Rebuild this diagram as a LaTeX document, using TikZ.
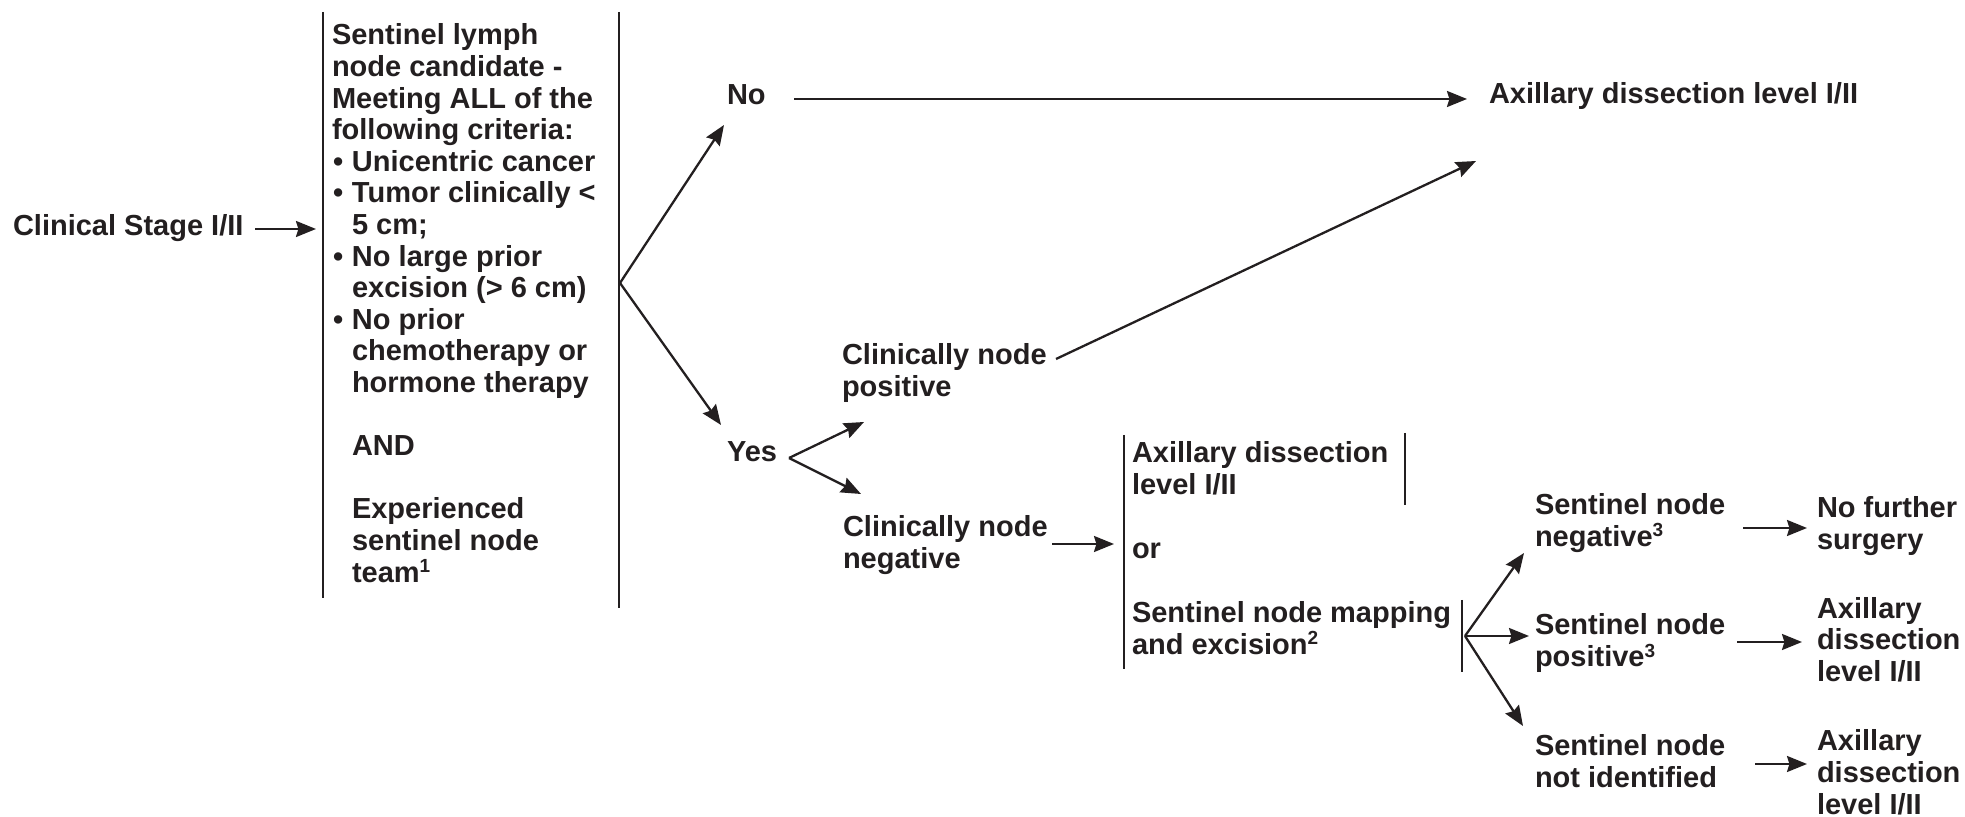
\documentclass[tikz,border=0pt]{standalone}
\usepackage{fontspec}
\setmainfont{Liberation Sans}
\usetikzlibrary{arrows.meta}
\definecolor{ink}{RGB}{35,31,32}
% footnote marks that do not stretch the line spacing
\newcommand{\fnmark}[1]{\smash{\raisebox{5pt}{\fontsize{9.5}{9.5}\selectfont #1}}}
\newcommand{\bul}{\makebox[10pt][l]{\hspace{0.5pt}\textbullet}}
\newcommand{\ind}{\hspace*{10pt}}
\newcommand{\lines}[1]{\begin{tabular}[t]{@{}l@{}}#1\end{tabular}}
\tikzset{
  txt/.style={anchor=base west, inner sep=0pt, outer sep=0pt, text=ink,
    font=\fontsize{14.5}{16}\selectfont\bfseries},
  crit/.style={txt, font=\fontsize{14.5}{15.8}\selectfont\bfseries},
  link/.style={draw=ink, line width=1.15pt, -{Stealth[length=10pt,width=8pt,inset=1.2pt]}},
  rule/.style={draw=ink, line width=1.1pt},
}
\begin{document}
\begin{tikzpicture}[x=0.5pt, y=-0.5pt]
\useasboundingbox (0,0) rectangle (1965,817);

% ---- text blocks ----
\node[txt] (stage) at (13,236) {Clinical Stage I/II};
\node[crit] (criteria) at (332,45) {\lines{%
  Sentinel lymph\\
  node candidate -\\
  Meeting ALL of the\\
  following criteria:\\
  \bul Unicentric cancer\\
  \bul Tumor clinically <\\
  \ind 5 cm;\\
  \bul No large prior\\
  \ind excision (> 6 cm)\\
  \bul No prior\\
  \ind chemotherapy or\\
  \ind hormone therapy\\
  \\
  \ind AND\\
  \\
  \ind Experienced\\
  \ind sentinel node\\
  \ind team\fnmark{1}}};
\node[txt] (no) at (727,105) {No};
\node[txt] (yes) at (727,462) {Yes};
\node[txt] (axtop) at (1489,104) {Axillary dissection level I/II};
\node[txt] (cpos) at (842,365) {\lines{Clinically node\\ positive}};
\node[txt] (cneg) at (843,537) {\lines{Clinically node\\ negative}};
\node[txt] (choice) at (1132,463) {\lines{%
  Axillary dissection\\
  level I/II\\
  \\
  or\\
  \\
  Sentinel node mapping\\
  and excision\fnmark{2}}};
\node[txt] (snneg) at (1535,515) {\lines{Sentinel node\\ negative\fnmark{3}}};
\node[txt] (snpos) at (1535,635) {\lines{Sentinel node\\ positive\fnmark{3}}};
\node[txt] (snnone) at (1535,755) {\lines{Sentinel node\\ not identified}};
\node[txt] (nofurther) at (1817,518) {\lines{No further\\ surgery}};
\node[txt] (axpos) at (1817,618) {\lines{Axillary\\ dissection\\ level I/II}};
\node[txt] (axnone) at (1817,750) {\lines{Axillary\\ dissection\\ level I/II}};

% ---- bracket rules ----
\draw[rule] (323,12) coordinate (critLtop) -- (323,598) coordinate (critLbot);
\draw[rule] (619,12) coordinate (critRtop) -- (619,608) coordinate (critRbot);
\draw[rule] (1124,435) coordinate (choiceLtop) -- (1124,669) coordinate (choiceLbot);
\draw[rule] (1405,433) coordinate (axRtop) -- (1405,505) coordinate (axRbot);
\draw[rule] (1462,600) coordinate (mapRtop) -- (1462,672) coordinate (mapRbot);

% ---- connector end points ----
\coordinate (stageOut) at (255,229);
\coordinate (critIn) at (316,229);
\coordinate (critOut) at (620,283);
\coordinate (noIn) at (724,125);
\coordinate (yesIn) at (721,425);
\coordinate (noOut) at (794,99);
\coordinate (axtopIn) at (1467,99);
\coordinate (cposOut) at (1056,359);
\coordinate (axtopIn2) at (1476,161);
\coordinate (yesOut) at (789,458);
\coordinate (cposIn) at (864,422);
\coordinate (cnegIn) at (861,494);
\coordinate (cnegOut) at (1052,544);
\coordinate (choiceIn) at (1114,544);
\coordinate (mapOut) at (1465,636);
\coordinate (snnegIn) at (1524,553);
\coordinate (snposIn) at (1529,636);
\coordinate (snnoneIn) at (1523,726);
\coordinate (snnegOut) at (1743,528);
\coordinate (nofurtherIn) at (1807,528);
\coordinate (snposOut) at (1737,642);
\coordinate (axposIn) at (1802,642);
\coordinate (snnoneOut) at (1755,764);
\coordinate (axnoneIn) at (1807,764);

% ---- connectors ----
\draw[link] (stageOut) -- (critIn);
\draw[link] (critOut) -- (noIn);
\draw[link] (critOut) -- (yesIn);
\draw[link] (noOut) -- (axtopIn);
\draw[link] (cposOut) -- (axtopIn2);
\draw[link] (yesOut) -- (cposIn);
\draw[link] (yesOut) -- (cnegIn);
\draw[link] (cnegOut) -- (choiceIn);
\draw[link] (mapOut) -- (snnegIn);
\draw[link] (mapOut) -- (snposIn);
\draw[link] (mapOut) -- (snnoneIn);
\draw[link] (snnegOut) -- (nofurtherIn);
\draw[link] (snposOut) -- (axposIn);
\draw[link] (snnoneOut) -- (axnoneIn);
\end{tikzpicture}
\end{document}
